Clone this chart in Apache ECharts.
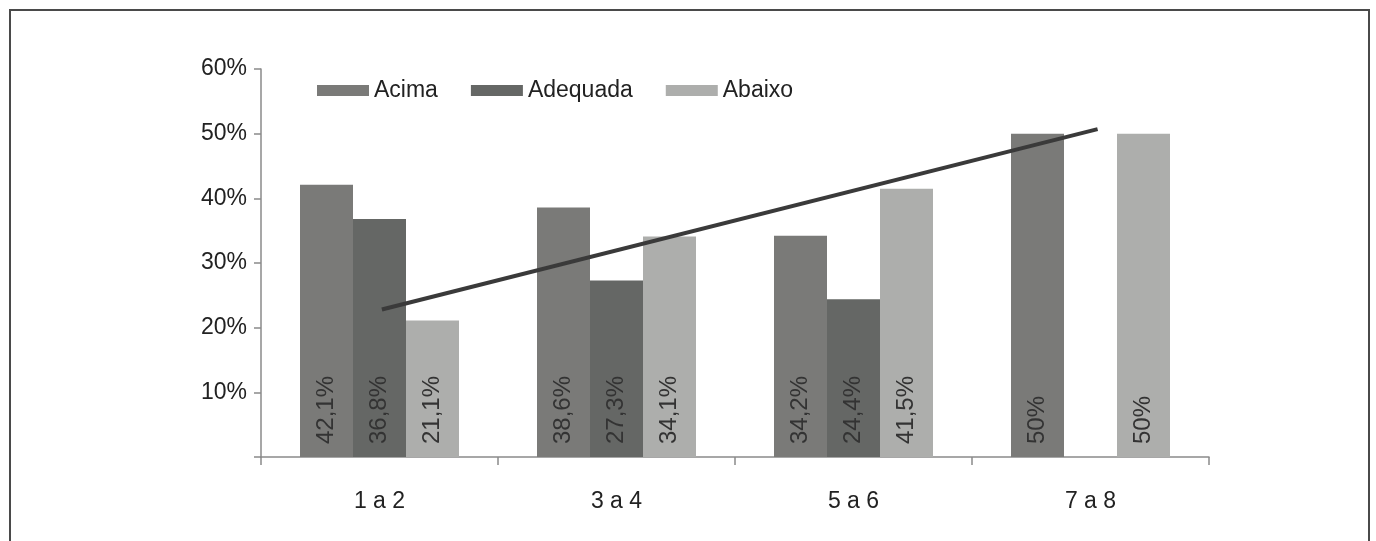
<!DOCTYPE html>
<html>
<head>
<meta charset="utf-8">
<title>Acima / Adequada / Abaixo</title>
<script src="https://cdn.jsdelivr.net/npm/echarts@6/dist/echarts.min.js"></script>
<style>
  html, body {
    margin: 0;
    padding: 0;
    background: #fff;
  }
  #chartBox {
    width: 1376px;
    height: 541px;
  }
</style>
</head>
<body>
<div id="chartBox"></div>
<script>
// categorias e valores (%)
var categories = ["1 a 2", "3 a 4", "5 a 6", "7 a 8"];
var acima = [42.1, 38.6, 34.2, 50];
var adequada = [36.8, 27.3, 24.4, null];
var abaixo = [21.1, 34.1, 41.5, 50];
// linha de tendência: [posição no eixo x (em categorias), valor %]
var tendencia = [[0.51, 22.8], [3.53, 50.7]];
var yTicks = [0, 10, 20, 30, 40, 50, 60];

var fontName = "Liberation Sans, Arial, sans-serif";

function barLabel(p) {
  return String(p.value).replace(".", ",") + "%";
}

function barSerie(name, data, color) {
  return {
    name: name,
    type: "bar",
    data: data,
    barWidth: 53,
    barGap: "0%",
    itemStyle: { color: color },
    label: {
      show: true,
      position: "insideBottom",
      rotate: 90,
      align: "left",
      verticalAlign: "middle",
      distance: 13,
      formatter: barLabel,
      color: "#333",
      fontSize: 24,
      fontFamily: fontName
    }
  };
}

var myChart = echarts.init(document.getElementById("chartBox"));
myChart.setOption({
  animation: false,
  textStyle: { fontFamily: fontName },
  graphic: [
    {
      type: "rect",
      shape: { x: 10, y: 10, width: 1359, height: 600 },
      style: { fill: "none", stroke: "#4a4a4a", lineWidth: 2 },
      silent: true
    }
  ],
  legend: {
    data: ["Acima", "Adequada", "Abaixo"],
    left: 317,
    top: 79,
    padding: 0,
    icon: "rect",
    itemWidth: 52,
    itemHeight: 11,
    itemGap: 33,
    textStyle: { fontSize: 23, color: "#222", fontFamily: fontName }
  },
  grid: {
    left: 261,
    right: 167,
    top: 69,
    bottom: 84,
    containLabel: false
  },
  xAxis: [
    {
      type: "category",
      data: categories,
      axisLine: { show: true, lineStyle: { color: "#8a8a8a", width: 1.5 } },
      axisTick: { show: true, length: 8, lineStyle: { color: "#8a8a8a", width: 1.5 } },
      axisLabel: { color: "#222", fontSize: 23, margin: 33, fontFamily: fontName }
    },
    {
      type: "value",
      min: 0,
      max: 4,
      show: false
    }
  ],
  yAxis: {
    type: "value",
    min: yTicks[0],
    max: yTicks[yTicks.length - 1],
    interval: 10,
    axisLine: { show: true, lineStyle: { color: "#8a8a8a", width: 1.5 } },
    axisTick: { show: true, length: 7, lineStyle: { color: "#8a8a8a", width: 1.5 } },
    splitLine: { show: false },
    axisLabel: {
      color: "#222",
      fontSize: 23,
      margin: 14,
      fontFamily: fontName,
      formatter: function (v) {
        return v === 0 ? "" : v + "%";
      }
    }
  },
  series: [
    barSerie("Acima", acima, "#7a7a78"),
    barSerie("Adequada", adequada, "#656765"),
    barSerie("Abaixo", abaixo, "#adaeac"),
    {
      name: "Tendência",
      type: "line",
      xAxisIndex: 1,
      data: tendencia,
      symbol: "none",
      z: 5,
      lineStyle: { color: "#3a3a3a", width: 4 }
    }
  ]
});
</script>
</body>
</html>
